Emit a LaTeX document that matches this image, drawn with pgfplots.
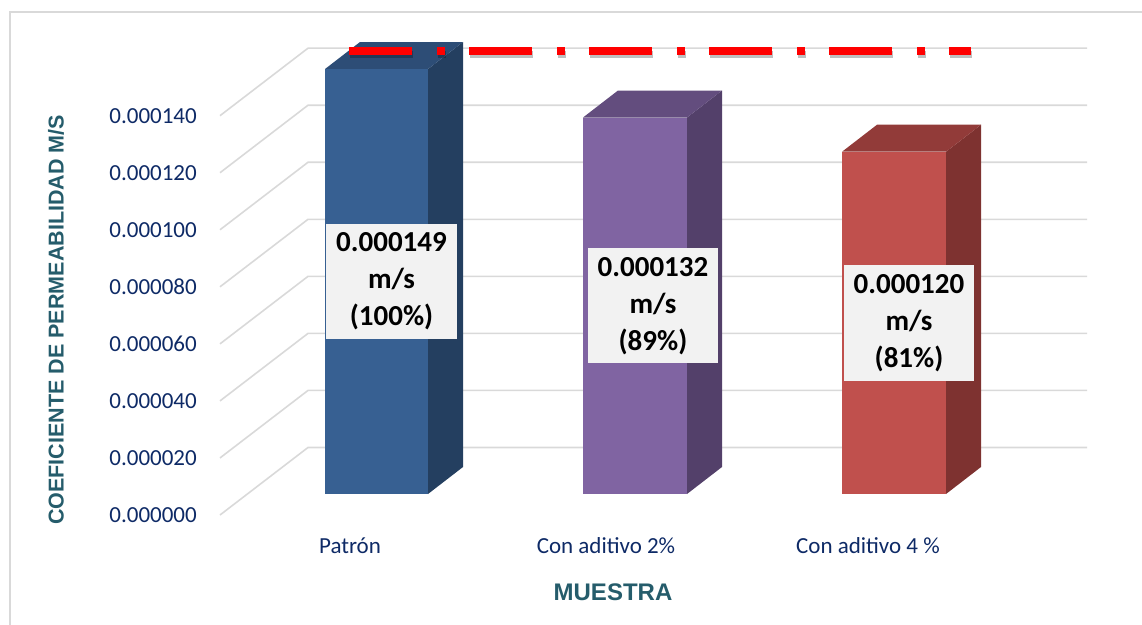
\documentclass[border=0pt]{standalone}
\usepackage{fontspec}
\setmainfont{Carlito}
\newfontfamily\arialfont{Liberation Sans}
\usepackage{pgfplots}
\pgfplotsset{compat=1.18}

\definecolor{gridc}{HTML}{D9D9D9}
\definecolor{framec}{HTML}{D9D9D9}
\definecolor{tickc}{HTML}{0E2A66}
\definecolor{titlec}{HTML}{255C6B}
\definecolor{labelbg}{HTML}{F2F2F2}
\definecolor{bluefront}{HTML}{376092}
\definecolor{bluetop}{HTML}{2D4D76}
\definecolor{blueside}{HTML}{243F60}
\definecolor{purpfront}{HTML}{8064A2}
\definecolor{purptop}{HTML}{634D7E}
\definecolor{purpside}{HTML}{53406A}
\definecolor{redfront}{HTML}{C0504D}
\definecolor{redtop}{HTML}{923B39}
\definecolor{redside}{HTML}{7E3230}

% x is measured along the drawing, y in m/s.
% Floor of the bars sits 0.00000736 above the front level,
% bar depth rises 0.00000947, back wall rises 0.00002367.
\begin{document}
\begin{tikzpicture}
\useasboundingbox (-220pt,-109pt) rectangle (922pt,515pt);
\draw[framec, line width=1.5pt] (-210pt,503pt) rectangle (960pt,-140pt);
\begin{axis}[
  at={(0pt,0pt)}, anchor=south west,
  scale only axis, width=867pt, height=399.3pt,
  xmin=220, xmax=1087, ymin=0, ymax=0.00014,
  clip=false,
  axis line style={draw=none},
  major tick length=0pt,
  xtick={350,606,868},
  xticklabels={Patrón, Con aditivo 2\%, Con aditivo 4 \%},
  xticklabel style={anchor=center, yshift=-31pt, text=tickc,
    font=\fontsize{23}{28}\selectfont},
  ytick={0,0.00002,0.00004,0.00006,0.00008,0.0001,0.00012,0.00014},
  scaled y ticks=false,
  yticklabel style={anchor=east, inner sep=0pt, xshift=-23pt, text=tickc,
    font=\fontsize{23}{28}\selectfont,
    /pgf/number format/fixed, /pgf/number format/fixed zerofill,
    /pgf/number format/precision=6, /pgf/number format/assume math mode=true},
  ylabel={COEFICIENTE DE PERMEABILIDAD M/S},
  ylabel style={at={(rel axis cs:-0.189,0.4886)}, anchor=center, rotate=0,
    text=titlec, font=\arialfont\bfseries\fontsize{21.5}{26}\selectfont},
  xlabel={MUESTRA},
  xlabel style={at={(rel axis cs:0.4533,-0.1929)}, anchor=center,
    text=titlec, font=\arialfont\bfseries\fontsize{24}{28}\selectfont},
]
% gridlines: side wall diagonal, then back wall
\addplot[gridc, line width=1.6pt] coordinates {(220,0) (308,0.00002367) (1087,0.00002367)};
\addplot[gridc, line width=1.6pt] coordinates {(220,0.00002) (308,0.00004367) (1087,0.00004367)};
\addplot[gridc, line width=1.6pt] coordinates {(220,0.00004) (308,0.00006367) (1087,0.00006367)};
\addplot[gridc, line width=1.6pt] coordinates {(220,0.00006) (308,0.00008367) (1087,0.00008367)};
\addplot[gridc, line width=1.6pt] coordinates {(220,0.00008) (308,0.00010367) (1087,0.00010367)};
\addplot[gridc, line width=1.6pt] coordinates {(220,0.0001) (308,0.00012367) (1087,0.00012367)};
\addplot[gridc, line width=1.6pt] coordinates {(220,0.00012) (308,0.00014367) (1087,0.00014367)};
\addplot[gridc, line width=1.6pt] coordinates {(220,0.00014) (308,0.00016367) (1087,0.00016367)};

% Patrón: 0.000149
\addplot[draw=none, fill=blueside] coordinates {(428,0.00000736) (463,0.00001683) (463,0.00016583) (428,0.00015636)} -- cycle;
\addplot[draw=none, fill=bluetop] coordinates {(325,0.00015636) (428,0.00015636) (463,0.00016583) (360,0.00016583)} -- cycle;
\addplot[draw=none, fill=bluefront] coordinates {(325,0.00000736) (428,0.00000736) (428,0.00015636) (325,0.00015636)} -- cycle;

% Con aditivo 2%: 0.000132
\addplot[draw=none, fill=purpside] coordinates {(687,0.00000736) (722,0.00001683) (722,0.00014883) (687,0.00013936)} -- cycle;
\addplot[draw=none, fill=purptop] coordinates {(583,0.00013936) (687,0.00013936) (722,0.00014883) (618,0.00014883)} -- cycle;
\addplot[draw=none, fill=purpfront] coordinates {(583,0.00000736) (687,0.00000736) (687,0.00013936) (583,0.00013936)} -- cycle;

% Con aditivo 4 %: 0.000120
\addplot[draw=none, fill=redside] coordinates {(946,0.00000736) (981,0.00001683) (981,0.00013683) (946,0.00012736)} -- cycle;
\addplot[draw=none, fill=redtop] coordinates {(842,0.00012736) (946,0.00012736) (981,0.00013683) (877,0.00013683)} -- cycle;
\addplot[draw=none, fill=redfront] coordinates {(842,0.00000736) (946,0.00000736) (946,0.00012736) (842,0.00012736)} -- cycle;

% value labels, centred on the front faces
\begin{scope}[every node/.style={draw=none, fill=labelbg, align=center, inner xsep=10pt, inner ysep=9pt,
    font=\bfseries\fontsize{29}{37}\selectfont}]
\node at (axis cs:391.5,0.00008186) {0.000149\\m/s\\(100\%)};
\node at (axis cs:653,0.00007336) {0.000132\\m/s\\(89\%)};
\node at (axis cs:909,0.00006736) {0.000120\\m/s\\(81\%)};
\end{scope}

% reference level of the Patrón sample
\addplot[black, opacity=0.25, line width=7pt, yshift=-4pt, xshift=1pt,
  dash pattern=on 63pt off 25pt on 8pt off 24pt] coordinates {(349,0.0001628) (971,0.0001628)};
\addplot[red, line width=8pt, dash pattern=on 63pt off 25pt on 8pt off 24pt]
  coordinates {(349,0.0001628) (971,0.0001628)};
\end{axis}
\end{tikzpicture}
\end{document}
